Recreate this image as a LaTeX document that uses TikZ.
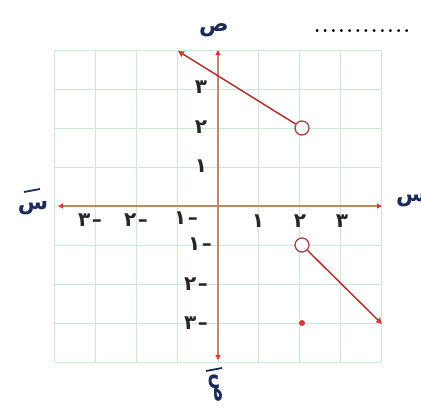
\documentclass[tikz,border=0pt]{standalone}
\usepackage{fontspec}
\newfontfamily\arabicfont[Script=Arabic, BoldFont={DejaVu Sans Bold}]{DejaVu Sans}
\usetikzlibrary{arrows.meta}
\definecolor{gridc}{HTML}{CDE9D6}
\definecolor{axisc}{HTML}{C08A66}
\definecolor{redc}{HTML}{D23A3A}
\definecolor{ringc}{HTML}{9A4A48}
\definecolor{navy}{HTML}{1E2A5C}
\newcommand{\ardig}[1]{{\arabicfont\bfseries #1}}
\newcommand{\negdig}[1]{{\arabicfont\bfseries #1}\kern1.5pt{\arabicfont\bfseries –}}
\tikzset{
  axisline/.style={draw=axisc, line width=1.4pt, {Triangle[length=5pt,width=5pt,color=redc]}-{Triangle[length=5pt,width=5pt,color=redc]}},
  graphline/.style={draw=redc!85!black, line width=1.5pt},
  arrowend/.style={-{Triangle[length=6pt,width=6pt,color=redc]}},
  ticklbl/.style={font=\fontsize{20}{20}\selectfont, text=black!85, inner sep=0pt},
  axislbl/.style={font=\arabicfont\bfseries\fontsize{22}{22}\selectfont, text=navy, inner sep=0pt},
  barline/.style={draw=navy, line width=1.8pt},
  openpt/.style={circle, draw=ringc, line width=1.3pt, fill=white, minimum size=14pt, inner sep=0pt},
  filledpt/.style={circle, fill=redc, minimum size=6pt, inner sep=0pt},
}
\begin{document}
\begin{tikzpicture}[x=1pt,y=-1pt]
\useasboundingbox (0,0) rectangle (421,406);
% grid
\foreach \k in {-4,...,4} {
  \draw[gridc, line width=0.9pt] ({218+\k*40.8},50) -- ({218+\k*40.8},362);
  \draw[gridc, line width=0.9pt] (54.8,{206+\k*39}) -- (381.2,{206+\k*39});
}
% axes
\coordinate (xl) at (58,206);
\coordinate (xr) at (382,206);
\coordinate (yt) at (218,50);
\coordinate (yb) at (218,360);
\draw[axisline] (xl) -- (xr);
\draw[axisline] (yb) -- (yt);
% graph pieces
\node[openpt] (o1) at (302,128) {};
\coordinate (t1) at (178,51);
\draw[graphline, arrowend] (o1) -- (t1);
\node[openpt] (o2) at (302,245) {};
\coordinate (t2) at (382,324);
\draw[graphline, arrowend] (o2) -- (t2);
\node[filledpt] (f1) at (302,323) {};
% tick labels x
\node[ticklbl] (x1) at (258,221) {\ardig{١}};
\node[ticklbl] (x2) at (300,221) {\ardig{٢}};
\node[ticklbl] (x3) at (342,221) {\ardig{٣}};
\node[ticklbl] (xm1) at (186,218) {\negdig{١}};
\node[ticklbl] (xm2) at (136,220) {\negdig{٢}};
\node[ticklbl] (xm3) at (90,220) {\negdig{٣}};
% tick labels y
\node[ticklbl] (y1) at (201,166) {\ardig{١}};
\node[ticklbl] (y2) at (201,127) {\ardig{٢}};
\node[ticklbl] (y3) at (201,87) {\ardig{٣}};
\node[ticklbl] (ym1) at (200,244) {\negdig{١}};
\node[ticklbl] (ym2) at (196,284) {\negdig{٢}};
\node[ticklbl] (ym3) at (196,323) {\negdig{٣}};
% axis labels
\node[axislbl] (ls) at (214,30) {ص};
\node[axislbl, rotate=-90] (lsb) at (216,388) {ص};
\draw[barline] (206,371) -- (222,368);
\node[axislbl] (lx) at (33,208) {س};
\draw[barline] (24,192) -- (40,189);
\node[axislbl, anchor=west] (rx) at (396,200) {س};
% dotted answer line
\node[inner sep=0pt, font=\bfseries\fontsize{20}{20}\selectfont] (dots) at (362,31) {\makebox[96pt][s]{.\hfill.\hfill.\hfill.\hfill.\hfill.\hfill.\hfill.\hfill.\hfill.\hfill.\hfill.}};
\end{tikzpicture}
\end{document}
